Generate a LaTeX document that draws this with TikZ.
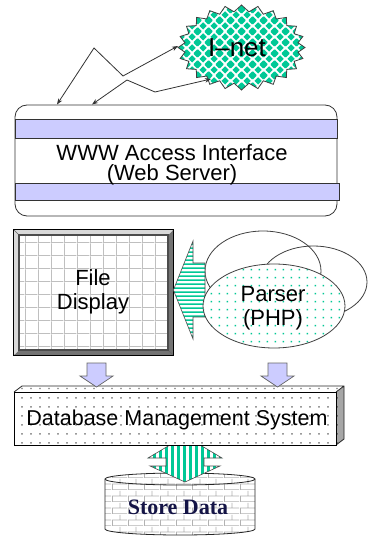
\documentclass[tikz,border=0pt]{standalone}
\usepackage{fontspec}
\setmainfont{Liberation Sans}
\newfontfamily\storefont{Liberation Serif}
\usetikzlibrary{shapes.symbols,shapes.geometric,patterns,arrows.meta,calc}
\definecolor{tealA}{RGB}{0,200,150}
\definecolor{lavA}{RGB}{204,204,255}
\definecolor{navyA}{RGB}{20,20,70}
\pgfdeclarepatternformonly{diamondsp}{\pgfqpoint{0pt}{0pt}}{\pgfqpoint{11pt}{11pt}}{\pgfqpoint{11pt}{11pt}}{%
  \pgfpathmoveto{\pgfqpoint{5.5pt}{1.6pt}}\pgfpathlineto{\pgfqpoint{9.4pt}{5.5pt}}\pgfpathlineto{\pgfqpoint{5.5pt}{9.4pt}}\pgfpathlineto{\pgfqpoint{1.6pt}{5.5pt}}\pgfpathclose
  \pgfpathmoveto{\pgfqpoint{0pt}{-3.9pt}}\pgfpathlineto{\pgfqpoint{3.9pt}{0pt}}\pgfpathlineto{\pgfqpoint{0pt}{3.9pt}}\pgfpathlineto{\pgfqpoint{-3.9pt}{0pt}}\pgfpathclose
  \pgfpathmoveto{\pgfqpoint{11pt}{-3.9pt}}\pgfpathlineto{\pgfqpoint{14.9pt}{0pt}}\pgfpathlineto{\pgfqpoint{11pt}{3.9pt}}\pgfpathlineto{\pgfqpoint{7.1pt}{0pt}}\pgfpathclose
  \pgfpathmoveto{\pgfqpoint{0pt}{7.1pt}}\pgfpathlineto{\pgfqpoint{3.9pt}{11pt}}\pgfpathlineto{\pgfqpoint{0pt}{14.9pt}}\pgfpathlineto{\pgfqpoint{-3.9pt}{11pt}}\pgfpathclose
  \pgfpathmoveto{\pgfqpoint{11pt}{7.1pt}}\pgfpathlineto{\pgfqpoint{14.9pt}{11pt}}\pgfpathlineto{\pgfqpoint{11pt}{14.9pt}}\pgfpathlineto{\pgfqpoint{7.1pt}{11pt}}\pgfpathclose
  \pgfusepath{fill}}
\pgfdeclarepatternformonly{dotsp}{\pgfqpoint{0pt}{0pt}}{\pgfqpoint{8pt}{8pt}}{\pgfqpoint{8pt}{8pt}}{%
  \pgfpathrectangle{\pgfqpoint{3pt}{3pt}}{\pgfqpoint{1.6pt}{1.6pt}}\pgfusepath{fill}}
\pgfdeclarepatternformonly{dbdotsp}{\pgfqpoint{0pt}{0pt}}{\pgfqpoint{9pt}{9pt}}{\pgfqpoint{9pt}{9pt}}{%
  \pgfpathrectangle{\pgfqpoint{3.8pt}{3.8pt}}{\pgfqpoint{1.4pt}{1.4pt}}\pgfusepath{fill}}
\pgfdeclarepatternformonly{hstripesp}{\pgfqpoint{0pt}{0pt}}{\pgfqpoint{4pt}{4pt}}{\pgfqpoint{4pt}{4pt}}{%
  \pgfpathrectangle{\pgfqpoint{-1pt}{0pt}}{\pgfqpoint{6pt}{2pt}}\pgfusepath{fill}}
\pgfdeclarepatternformonly{vstripesp}{\pgfqpoint{0pt}{0pt}}{\pgfqpoint{6.4pt}{4pt}}{\pgfqpoint{6.4pt}{4pt}}{%
  \pgfpathrectangle{\pgfqpoint{0pt}{-1pt}}{\pgfqpoint{3.2pt}{6pt}}\pgfusepath{fill}}
\pgfdeclarepatternformonly{gridp}{\pgfqpoint{0pt}{0pt}}{\pgfqpoint{12.7pt}{12.7pt}}{\pgfqpoint{12.7pt}{12.7pt}}{%
  \pgfsetlinewidth{0.9pt}
  \pgfpathmoveto{\pgfqpoint{0.45pt}{0pt}}\pgfpathlineto{\pgfqpoint{0.45pt}{12.7pt}}
  \pgfpathmoveto{\pgfqpoint{0pt}{0.45pt}}\pgfpathlineto{\pgfqpoint{12.7pt}{0.45pt}}
  \pgfusepath{stroke}}
\pgfdeclarepatternformonly{bricksp}{\pgfqpoint{0pt}{0pt}}{\pgfqpoint{16pt}{12pt}}{\pgfqpoint{16pt}{12pt}}{%
  \pgfsetlinewidth{0.8pt}
  \pgfpathmoveto{\pgfqpoint{0pt}{0.4pt}}\pgfpathlineto{\pgfqpoint{16pt}{0.4pt}}
  \pgfpathmoveto{\pgfqpoint{0pt}{6.4pt}}\pgfpathlineto{\pgfqpoint{16pt}{6.4pt}}
  \pgfpathmoveto{\pgfqpoint{0.4pt}{0pt}}\pgfpathlineto{\pgfqpoint{0.4pt}{6pt}}
  \pgfpathmoveto{\pgfqpoint{8.4pt}{6pt}}\pgfpathlineto{\pgfqpoint{8.4pt}{12pt}}
  \pgfusepath{stroke}}
\tikzset{
  conn/.style={draw=black!80, line width=0.8pt, arrows={Stealth[length=6pt,width=4.5pt]-Stealth[length=6pt,width=4.5pt]}},
  band/.style={draw=black!80, line width=0.8pt, fill=lavA},
  lbl/.style={font=\fontsize{22}{20}\selectfont, align=center, inner sep=0pt},
  purplearrow/.style={draw=black!60, line width=0.7pt, fill=lavA},
  outl/.style={draw=black!75, line width=0.8pt},
}
\begin{document}
\begin{tikzpicture}[x=1pt,y=-1pt]
\useasboundingbox[fill=white] (0,0) rectangle (367,537);

% I-net cloud
\node[starburst, starburst points=24, starburst point height=6.5pt, random starburst=0,
  minimum width=127pt, minimum height=85pt, inner sep=0pt, outl,
  preaction={fill=white}, pattern=diamondsp, pattern color=tealA] (inet) at (241.5,47.5) {};
\node[font=\fontsize{26}{26}\selectfont, inner sep=0pt] (inettxt) at (237,48) {I–net};

% WWW access interface
\node[draw=black!80, line width=0.8pt, rounded corners=12pt, minimum width=322pt, minimum height=111pt, inner sep=0pt] (www) at (176,160.5) {};
\draw[band] (15,119) rectangle (337,138);
\draw[band] (15,183) rectangle (339,200);
\node[lbl] (wwwtxt) at (172,165) {WWW Access Interface\\(Web Server)};

% lightning connectors
\coordinate (w1) at (57,104.5);
\coordinate (w2) at (92,104.5);
\coordinate (n1) at (178,46);
\coordinate (n2) at (211,79);
\draw[conn] (w1) -- (94,48) -- (123,76) -- (n1);
\draw[conn] (w2) -- (127,80) -- (155,92) -- (n2);

% File display
\node[draw=black, line width=0.8pt, fill=black!25, minimum width=159pt, minimum height=125pt, inner sep=0pt] (fd) at (93.5,292.5) {};
\fill[black!55] (fd.south east) -- (fd.north east) -- ++(-5,5) -- (19,350) -- (fd.south west) -- cycle;
\fill[black!15] (fd.north west) -- (fd.north east) -- ++(-5,5) -- (19,235) -- (19,350) -- (fd.south west) -- cycle;
\draw[black!60, line width=0.6pt] (fd.north west) -- (19,235);
\draw[black!60, line width=0.6pt] (fd.south east) -- (168,350);
\path[fill=white] (19,235) rectangle (168,350);
\path[pattern=gridp, pattern color=black!25] (19,235) rectangle (168,350);
\draw[black!70, line width=1.2pt] (19,235) rectangle (168,350);
\draw[black, line width=0.8pt] (fd.north west) rectangle (fd.south east);
\node[lbl] (fdtxt) at (93,292) {File\\[4pt]Display};

% background ellipses
\node[ellipse, outl, minimum width=116pt, minimum height=80pt, inner sep=0pt] (e1) at (263,271) {};
\node[ellipse, outl, minimum width=107pt, minimum height=72pt, inner sep=0pt] (e2) at (313.5,282) {};

% striped arrow from parser to file display
\coordinate (tipL) at (fd.east |- 0,290);
\path[draw=black!70, line width=0.6pt, preaction={fill=white}, pattern=hstripesp, pattern color=tealA]
  (tipL) -- (193,241) -- (193,263) -- (205,263) -- (205,317) -- (193,317) -- (193,339) -- cycle;

% Parser
\node[ellipse, outl, minimum width=142pt, minimum height=84pt, inner sep=0pt,
  preaction={fill=white}, pattern=dotsp, pattern color=tealA] (parser) at (274,306) {};
\node[lbl] (parsertxt) at (273,308) {Parser\\[4pt](PHP)};

% DB box
\coordinate (dbtl) at (14,392);
\coordinate (dbbr) at (336,445);
\node[inner sep=0pt, minimum width=322pt, minimum height=53pt] (db) at (175,418.5) {};
\path[fill=black!35] (336,392) -- (344,386) -- (344,439) -- (336,445) -- cycle;
\path[pattern=dbdotsp, pattern color=black!60] (336,392) -- (344,386) -- (344,439) -- (336,445) -- cycle;
\path[fill=white] (14,392) -- (22,386) -- (344,386) -- (336,392) -- cycle;
\path[pattern=dbdotsp, pattern color=black!60] (14,392) -- (22,386) -- (344,386) -- (336,392) -- cycle;
\draw[black!85, line width=0.8pt] (14,392) -- (22,386) -- (344,386) -- (344,439) -- (336,445) (336,392) -- (344,386);

% small purple arrows
\path[purplearrow] (87,363) -- (106,363) -- (106,376) -- (113,376) -- (96.5,387) -- (80,376) -- (87,376) -- cycle;
\path[purplearrow] (268,363) -- (287,363) -- (287,376) -- (294,376) -- (277.5,387) -- (261,376) -- (268,376) -- cycle;

% Store data cylinder
\path[fill=white] (105,479) -- (105,529) arc[start angle=180,end angle=0,x radius=75,y radius=6] -- (255,479) arc[start angle=0,end angle=-180,x radius=75,y radius=6] -- cycle;
\path[pattern=bricksp, pattern color=black!30] (105,479) -- (105,529) arc[start angle=180,end angle=0,x radius=75,y radius=6] -- (255,479) arc[start angle=0,end angle=-180,x radius=75,y radius=6] -- cycle;
\draw[black!85, line width=0.8pt] (105,479) -- (105,529) arc[start angle=180,end angle=0,x radius=75,y radius=6] -- (255,479) arc[start angle=0,end angle=-180,x radius=75,y radius=6] -- cycle;
\draw[black!85, line width=0.8pt] (105,479) arc[start angle=180,end angle=0,x radius=75,y radius=6];
\node[inner sep=0pt, minimum width=150pt, minimum height=60pt] (store) at (180,505) {};
\node[font=\storefont\bfseries\fontsize{22}{22}\selectfont, text=navyA, inner sep=0pt] (storetxt) at (178,507) {Store Data};

% up-down striped arrow
\path[draw=black!70, line width=0.6pt, preaction={fill=white}, pattern=vstripesp, pattern color=tealA]
  (185,436) -- (222,458) -- (204,458) -- (204,466) -- (220,466) -- (185,482) -- (150,466) -- (166,466) -- (166,458) -- (148,458) -- cycle;

% DB front face (over arrow)
\path[fill=white] (dbtl) rectangle (dbbr);
\path[pattern=dbdotsp, pattern color=black!60] (dbtl) rectangle (dbbr);
\draw[black, line width=0.9pt] (dbtl) rectangle (dbbr);
\node[font=\fontsize{21.5}{21.5}\selectfont, inner sep=0pt] (dbtxt) at (177,420) {Database Management System};
\end{tikzpicture}
\end{document}
